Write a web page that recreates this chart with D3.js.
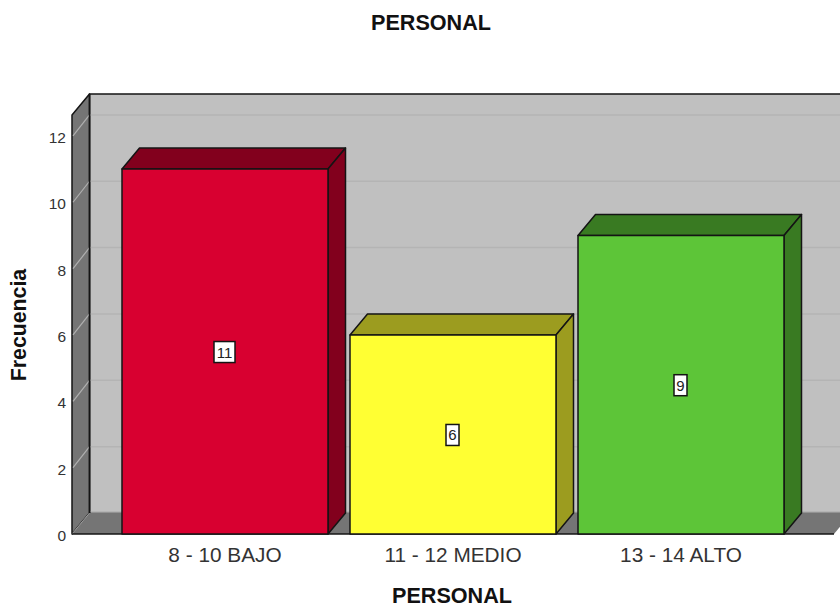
<!DOCTYPE html>
<html><head><meta charset="utf-8">
<script src="https://cdn.jsdelivr.net/npm/d3@7"></script>
<style>
html,body{margin:0;padding:0;background:#fff;overflow:hidden}
text{font-family:"Liberation Sans",Arial,sans-serif}
</style></head><body><svg id="c" width="840" height="608" style="display:block"></svg>
<script>
const categories = ["8 - 10 BAJO","11 - 12 MEDIO","13 - 14 ALTO"];
const counts = [11,6,9];
const frontColors = ["#d80030","#ffff33","#5dc538"];
const sideColors = ["#82001d","#9c9c1f","#397a22"];
const yTicks = [0,2,4,6,8,10,12];
const chartTitle = "PERSONAL", xTitle = "PERSONAL", yTitle = "Frecuencia";
const yMax = 12.63;

const dx = 17.5, dy = -21;
const svg = d3.select("#c");
const x = d3.scaleBand().domain(categories).range([122,784]).paddingInner(0.0965).paddingOuter(0);
const y = d3.scaleLinear().domain([0,yMax]).range([534,115]);
const L = 72, R = 834;
const ink = "#141414";
const line = d3.line();
const poly = (pts,fill,w=1.5)=>svg.append("path").attr("d",line(pts)+"Z").attr("fill",fill).attr("stroke",ink).attr("stroke-width",w).attr("stroke-linejoin","round");

// back wall
poly([[L+dx,y(yMax)+dy],[R+dx+10,y(yMax)+dy],[R+dx+10,y(0)+dy],[L+dx,y(0)+dy]],"#c0c0c0",1.5);
// left wall
poly([[L,y(yMax)],[L+dx,y(yMax)+dy],[L+dx,y(0)+dy],[L,y(0)]],"#757575",1.5);
// floor
svg.append("path").attr("d",line([[L,y(0)],[L+dx,y(0)+dy],[R+dx,y(0)+dy],[R,y(0)]])+"Z").attr("fill","#757575");
svg.append("line").attr("x1",L+dx).attr("x2",L).attr("y1",y(0)+dy).attr("y2",y(0)).attr("stroke","#a0a0a0").attr("stroke-width",1);
// gridlines
yTicks.forEach(t=>{
  if(t===0){
    svg.append("line").attr("x1",L+dx+1).attr("x2",840).attr("y1",y(0)+dy-1).attr("y2",y(0)+dy-1).attr("stroke","#b0b0b0").attr("stroke-width",1.5);
    return;
  }
  svg.append("line").attr("x1",L+1).attr("y1",y(t)).attr("x2",L+dx).attr("y2",y(t)+dy).attr("stroke","#b0b0b0").attr("stroke-width",1.2);
  svg.append("line").attr("x1",L+dx+1).attr("y1",y(t)+dy).attr("x2",840).attr("y2",y(t)+dy).attr("stroke","#b4b4b4").attr("stroke-width",1.5);
});
svg.append("line").attr("x1",L+dx).attr("x2",L+dx).attr("y1",y(yMax)+dy).attr("y2",y(0)+dy).attr("stroke",ink).attr("stroke-width",1.5);
// axis baseline
svg.append("line").attr("x1",L).attr("x2",R).attr("y1",y(0)).attr("y2",y(0)).attr("stroke",ink).attr("stroke-width",1.5);

// bars
categories.forEach((c,i)=>{
  const x0=x(c), x1=x0+x.bandwidth(), t=y(counts[i]), b=y(0);
  poly([[x0,t],[x0+dx,t+dy],[x1+dx,t+dy],[x1,t]],sideColors[i]);
  poly([[x1,t],[x1+dx,t+dy],[x1+dx,b+dy],[x1,b]],sideColors[i]);
  poly([[x0,t],[x1,t],[x1,b],[x0,b]],frontColors[i]);
});

// value labels
categories.forEach((c,i)=>{
  const cx=x(c)+x.bandwidth()/2-0.5, cy=y(counts[i]/2)+0.5;
  const s=String(counts[i]); const w=s.length>1?21:13;
  svg.append("rect").attr("x",cx-w/2).attr("y",cy-10.5).attr("width",w).attr("height",21).attr("fill","#fff").attr("stroke",ink).attr("stroke-width",1.5);
  svg.append("text").attr("x",cx).attr("y",cy+5.5).attr("text-anchor","middle").attr("font-size",15).attr("fill","#222").text(s);
});

// y axis labels via scale
svg.append("g").selectAll("text").data(yTicks).join("text")
  .attr("x",66).attr("y",d=>y(d)+7).attr("text-anchor","end").attr("font-size",15.5).attr("fill","#333").text(d=>d);
// x labels
svg.append("g").selectAll("text").data(categories).join("text")
  .attr("x",d=>x(d)+x.bandwidth()/2).attr("y",562).attr("text-anchor","middle").attr("font-size",20.8).attr("fill","#333").text(d=>d);
// titles
svg.append("text").attr("x",431).attr("y",30).attr("text-anchor","middle").attr("font-size",21.6).attr("font-weight","bold").attr("fill","#111").text(chartTitle);
svg.append("text").attr("x",452).attr("y",603).attr("text-anchor","middle").attr("font-size",21.6).attr("font-weight","bold").attr("fill","#111").text(xTitle);
svg.append("text").attr("transform","translate(26,325) rotate(-90)").attr("text-anchor","middle").attr("font-size",21.3).attr("font-weight","bold").attr("fill","#111").text(yTitle);
</script></body></html>
